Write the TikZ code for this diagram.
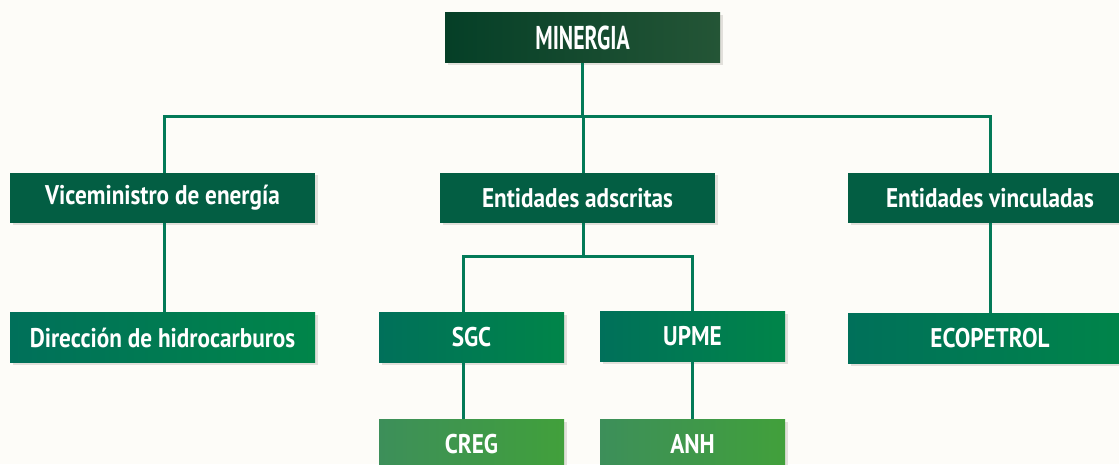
\documentclass[tikz,border=0pt]{standalone}
\usepackage{fontspec}
\setmainfont{PT Sans}
\newfontfamily\boxfont[FakeStretch=0.86]{PT Sans}
\newfontfamily\titlefont[FakeStretch=0.66]{PT Sans}
\usetikzlibrary{shadows}
\definecolor{bg}{HTML}{FDFCF8}
\definecolor{lineg}{HTML}{037A58}
\definecolor{shadowg}{HTML}{E2E0DB}
\definecolor{topA}{HTML}{053F27}
\definecolor{topB}{HTML}{245536}
\definecolor{midg}{HTML}{035E43}
\definecolor{lowA}{HTML}{00705A}
\definecolor{lowB}{HTML}{008549}
\definecolor{botA}{HTML}{3D8F5A}
\definecolor{botB}{HTML}{41A03B}
\tikzset{
  x=1pt, y=1pt,
  basebox/.style={rectangle, inner sep=0pt, minimum height=50pt, text=white,
    font=\boxfont\bfseries\fontsize{27}{30}\selectfont,
    drop shadow={shadow xshift=2.5pt, shadow yshift=-2.5pt, opacity=1, fill=shadowg}},
  topbox/.style={basebox, left color=topA, right color=topB, font=\titlefont\bfseries\fontsize{33}{36}\selectfont},
  midbox/.style={basebox, fill=midg},
  lowbox/.style={basebox, left color=lowA, right color=lowB},
  botbox/.style={basebox, left color=botA, right color=botB},
  conn/.style={draw=lineg, line width=3pt},
}
\begin{document}
\begin{tikzpicture}
\useasboundingbox (0,0) rectangle (1119,464);
\fill[bg] (0,0) rectangle (1119,464);
\begin{scope}
\clip (0,0) rectangle (1119,464);
% level 1
\node[topbox, minimum width=275pt] (min) at (582.5,426) {MINERGIA};
% level 2
\node[midbox, minimum width=305pt] (vice) at (162.5,266) {Viceministro de energía};
\node[midbox, minimum width=275pt] (adsc) at (577.5,266) {Entidades adscritas};
\node[midbox, minimum width=284pt] (vinc) at (990,266) {Entidades vinculadas};
% level 3
\node[lowbox, minimum width=305pt] (dir) at (162.5,126.5) {Dirección de hidrocarburos};
\node[lowbox, minimum width=185pt] (sgc) at (471.5,127) {SGC};
\node[lowbox, minimum width=185pt] (upme) at (692.5,128) {UPME};
\node[lowbox, minimum width=284pt] (eco) at (990,126) {ECOPETROL};
% level 4
\node[botbox, minimum width=185pt] (creg) at (471.5,20) {CREG};
\node[botbox, minimum width=185pt] (anh) at (692.5,20) {ANH};
\coordinate (bus) at (582.5,347.3);
\coordinate (bus2) at (583.3,207.3);
\end{scope}
% connectors
\draw[conn] (min.south) -- (bus);
\draw[conn] ([xshift=1.5pt]vice.north) |- (bus) -| (vinc.north);
\draw[conn] ([xshift=5.8pt]adsc.north) -- ([xshift=5.8pt]adsc.north |- bus);
\draw[conn] ([xshift=1.5pt]vice.south) -- ([xshift=1.5pt]dir.north);
\draw[conn] (vinc.south) -- (eco.north);
\draw[conn] ([xshift=5.8pt]adsc.south) -- (bus2);
\draw[conn] ([xshift=-8.5pt]sgc.north) |- (bus2) -| (upme.north);
\draw[conn] ([xshift=-8.5pt]sgc.south) -- ([xshift=-8.5pt]creg.north);
\draw[conn] (upme.south) -- (anh.north);
\end{tikzpicture}
\end{document}
